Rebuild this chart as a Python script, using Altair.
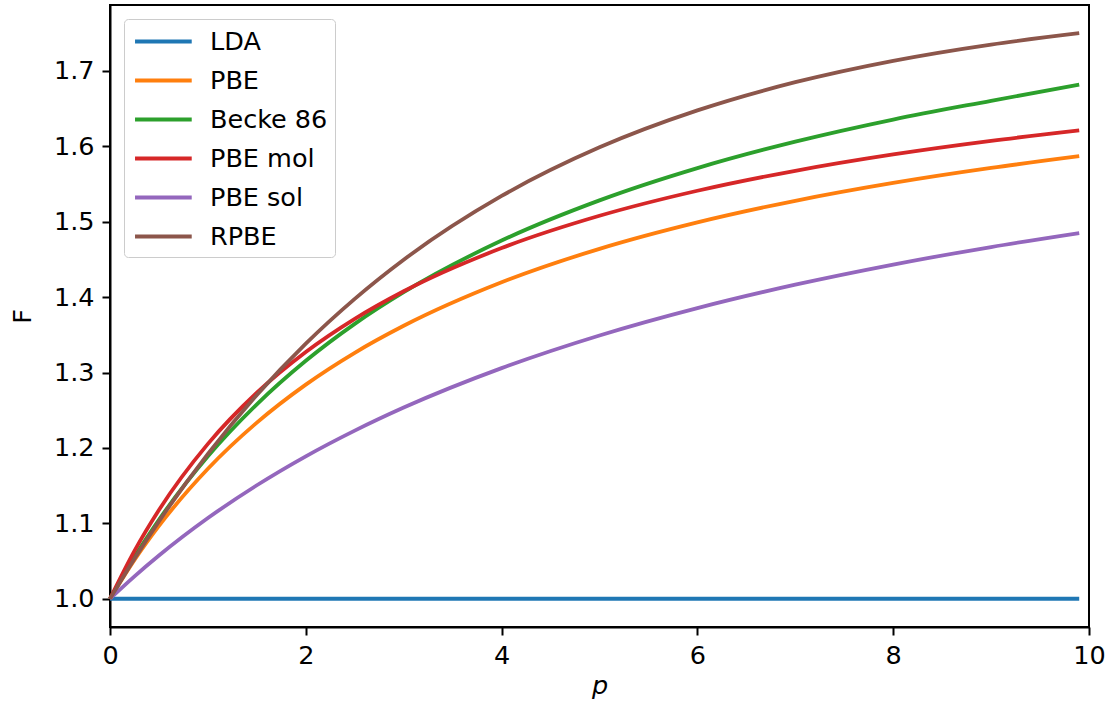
import altair as alt
import pandas as pd

p_vals = [0.0, 0.25, 0.5, 1.0, 1.5, 2.0, 2.5, 3.0, 4.0, 5.0, 6.0, 7.0, 8.0, 9.0, 9.9]

lda = [1.0] * len(p_vals)
pbe = [1.0, 1.0514, 1.0966, 1.1724, 1.2336, 1.2840, 1.3262, 1.3620, 1.4197, 1.4641, 1.4992, 1.5278, 1.5515, 1.5714, 1.5869]
becke86 = [1.0, 1.0554, 1.1047, 1.1889, 1.2579, 1.3156, 1.3646, 1.4066, 1.4751, 1.5284, 1.5712, 1.6063, 1.6356, 1.6604, 1.6820]
pbe_mol = [1.0, 1.0635, 1.1177, 1.2054, 1.2732, 1.3272, 1.3712, 1.4078, 1.4651, 1.5079, 1.5411, 1.5676, 1.5893, 1.6073, 1.6211]
pbe_sol = [1.0, 1.0297, 1.0573, 1.1070, 1.1505, 1.1889, 1.2230, 1.2536, 1.3059, 1.3492, 1.3855, 1.4165, 1.4432, 1.4665, 1.4850]
rpbe = [1.0, 1.0531, 1.1026, 1.1921, 1.2702, 1.3383, 1.3977, 1.4496, 1.5342, 1.5987, 1.6477, 1.6851, 1.7135, 1.7351, 1.7501]

names = ["LDA", "PBE", "Becke 86", "PBE mol", "PBE sol", "RPBE"]
series = [lda, pbe, becke86, pbe_mol, pbe_sol, rpbe]
colors = ["#1f77b4", "#ff7f0e", "#2ca02c", "#d62728", "#9467bd", "#8c564b"]

x_ticks = [0, 2, 4, 6, 8, 10]
y_ticks = [1.0, 1.1, 1.2, 1.3, 1.4, 1.5, 1.6, 1.7]

rows = []
for i, (n, s) in enumerate(zip(names, series)):
    for pv, fv in zip(p_vals, s):
        rows.append({"p": pv, "F": fv, "name": n, "order": i})
df = pd.DataFrame(rows)

FONT = "DejaVu Sans"
FS = 25.5

chart = alt.Chart(df).mark_line(strokeWidth=3.8, interpolate="monotone", strokeCap="butt").encode(
    x=alt.X("p:Q", scale=alt.Scale(domain=[0, 10], nice=False, zero=False),
            axis=alt.Axis(values=x_ticks, format="d", title="p", titleFontStyle="italic",
                          titlePadding=5, labelFlush=False)),
    y=alt.Y("F:Q", scale=alt.Scale(domain=[0.9625, 1.7875], nice=False, zero=False),
            axis=alt.Axis(values=y_ticks, format=".1f", title="F", titlePadding=18)),
    color=alt.Color("name:N", scale=alt.Scale(domain=names, range=colors),
                    legend=alt.Legend(title=None, orient="top-left", offset=14,
                                      symbolType="M-0.85,0L3.35,0", symbolSize=729, symbolStrokeWidth=4,
                                      labelFontSize=FS, labelFont=FONT, labelColor="black",
                                      fillColor="rgba(255,255,255,0.8)", strokeColor="#cccccc",
                                      cornerRadius=4, padding=7, rowPadding=10, labelOffset=48,
                                      labelLimit=300)),
    detail="order:O",
).properties(
    width=979, height=622,
    padding={"left": 110, "top": 5, "right": 24, "bottom": 81},
    autosize="none",
).configure_view(
    stroke="black", strokeWidth=2
).configure_axis(
    grid=False, domainColor="black", domainWidth=2, tickColor="black", tickWidth=2,
    tickSize=8, labelFontSize=FS, labelFont=FONT, labelColor="black", labelPadding=8,
    titleFontSize=FS, titleFont=FONT, titleColor="black", titleFontWeight="normal",
)

chart.save("out.html", embed_options={"renderer": "svg", "actions": False})
